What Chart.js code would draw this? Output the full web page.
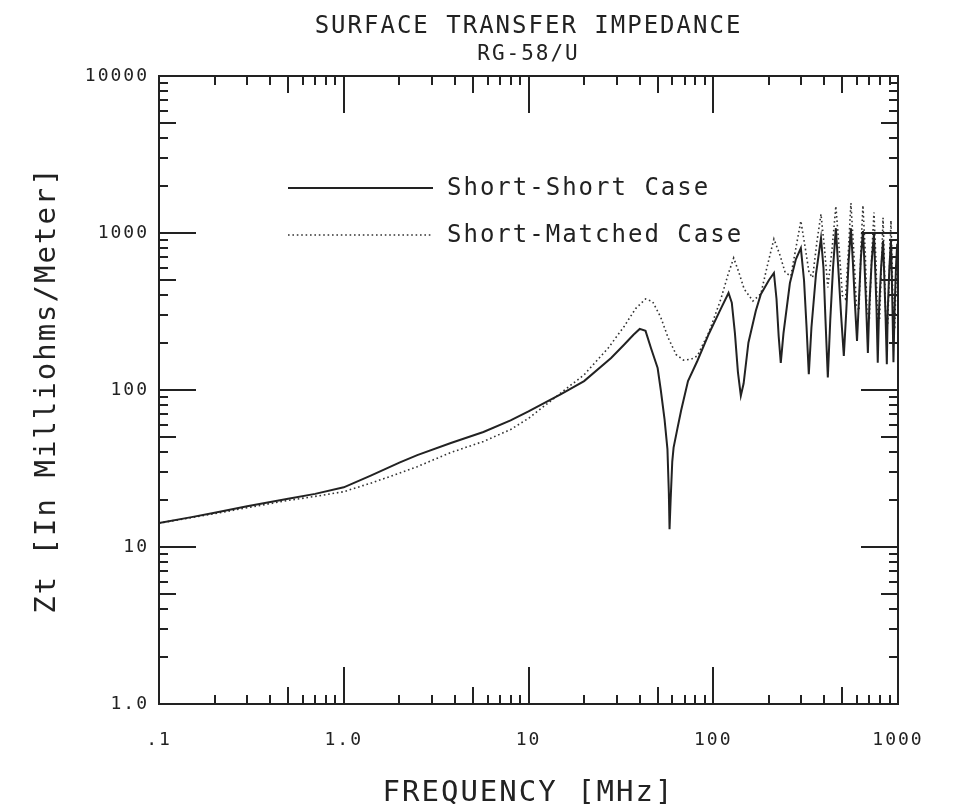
<!DOCTYPE html>
<html>
<head>
<meta charset="utf-8">
<title>Surface Transfer Impedance</title>
<script src="https://cdn.jsdelivr.net/npm/chart.js@4.4.1/dist/chart.umd.min.js"></script>
<style>
    body { margin: 0; background: #fff; }
    canvas { display: block; }
</style>
</head>
<body>
<canvas id="chart" width="955" height="804"></canvas>
<script>
/* =========================
   DATA
========================= */

// Short-Short case
const ssFreq = [0.1, 0.15, 0.2, 0.3, 0.5, 0.7, 1.0, 1.4, 2.0, 2.5, 3.8, 5.7, 8, 10, 15, 20, 28, 33, 37, 40,
    43, 46, 50, 52, 54.5, 56.5, 57.5, 58, 58.8, 60, 61, 64, 67, 73, 82, 95, 110, 121, 126, 131,
    136, 141, 146, 155, 170, 181, 200, 213, 220, 226, 232, 240, 260, 280, 298, 310, 320, 329, 340, 360,
    383, 395, 405, 417, 430, 445, 461, 475, 492, 509, 525, 540, 556, 570, 585, 600, 615, 630, 646, 658,
    672, 687, 700, 720, 741, 752, 765, 777, 790, 810, 830, 842, 856, 870, 880, 898, 916, 925, 935, 945,
    958, 975, 990, 1000];
const ssZt = [14.2, 15.5, 16.5, 18.2, 20.3, 21.8, 24, 28.5, 34.5, 38.5, 46, 54, 64, 73, 94, 114, 160, 195, 225, 245,
    238, 185, 138, 100, 65, 42, 22, 13, 20, 35, 43, 57, 74, 114, 153, 230, 330, 415, 360, 230,
    130, 92, 110, 200, 320, 408, 500, 556, 380, 220, 149, 230, 480, 680, 802, 500, 250, 126, 250, 550,
    929, 600, 280, 120, 280, 600, 1073, 600, 300, 165, 320, 650, 1073, 650, 350, 205, 380, 700, 1030, 650,
    350, 172, 350, 650, 985, 600, 330, 149, 330, 600, 890, 550, 300, 146, 320, 600, 890, 550, 300, 150,
    320, 600, 850, 700];

// Short-Matched case
const smFreq = [0.1, 0.2, 0.3, 0.5, 0.7, 1.0, 1.4, 2.0, 2.5, 3.8, 5.7, 8, 10, 13, 15, 20, 27, 33, 38, 43,
    47, 52, 57, 63, 69, 76, 82, 95, 110, 120, 129, 137, 147, 164, 181, 195, 213, 230, 245, 263,
    280, 298, 315, 330, 345, 365, 383, 400, 417, 440, 461, 480, 500, 520, 540, 556, 575, 595, 615, 630,
    646, 665, 680, 700, 720, 741, 760, 775, 795, 815, 830, 845, 860, 880, 900, 916, 930, 945, 960, 980,
    1000];
const smZt = [14.2, 16.3, 17.8, 19.8, 21, 22.5, 25.5, 29.5, 32.5, 40, 47, 56, 66, 84, 96, 125, 185, 255, 330, 380,
    365, 290, 215, 168, 155, 157, 165, 235, 380, 540, 693, 570, 440, 369, 410, 600, 916, 720, 560, 532,
    800, 1192, 800, 560, 520, 900, 1320, 800, 450, 800, 1482, 800, 400, 380, 800, 1550, 800, 350, 320, 800,
    1500, 750, 300, 290, 700, 1350, 650, 270, 280, 650, 1250, 600, 260, 260, 600, 1200, 600, 250, 250, 600,
    1000];

// axes
const xTicks = [0.1, 1, 10, 100, 1000];
const xTickLabels = [".1", "1.0", "10", "100", "1000"];
const yTicks = [1, 10, 100, 1000, 10000];
const yTickLabels = ["1.0", "10", "100", "1000", "10000"];
const minorSteps = [2, 3, 4, 5, 6, 7, 8, 9];

/* =========================
   STYLE
========================= */

const INK = "#222";
const FONT = "'DejaVu Sans Mono', monospace";

function pts(xs, ys) {
    return xs.map((x, i) => ({ x: x, y: ys[i] }));
}

/* plotter-style box + inward ticks on all four sides */
const frame = {
    id: "frame",
    beforeDraw(chart) {
        chart.ctx.letterSpacing = "2px";
    },
    afterDatasetsDraw(chart) {
        const { ctx, chartArea: a, scales: { x, y } } = chart;
        const len = m => m === 1 ? 37 : (m === 5 ? 17 : 9);

        ctx.save();
        ctx.strokeStyle = INK;
        ctx.lineWidth = 2;
        ctx.beginPath();

        xTicks.forEach(d => {
            [1, ...minorSteps].forEach(m => {
                const v = d * m;
                if (v > x.max * 1.0001) return;
                const px = Math.round(x.getPixelForValue(v));
                ctx.moveTo(px, a.bottom);
                ctx.lineTo(px, a.bottom - len(m));
                ctx.moveTo(px, a.top);
                ctx.lineTo(px, a.top + len(m));
            });
        });

        yTicks.forEach(d => {
            [1, ...minorSteps].forEach(m => {
                const v = d * m;
                if (v > y.max * 1.0001) return;
                const py = Math.round(y.getPixelForValue(v));
                ctx.moveTo(a.left, py);
                ctx.lineTo(a.left + len(m), py);
                ctx.moveTo(a.right, py);
                ctx.lineTo(a.right - len(m), py);
            });
        });
        ctx.stroke();

        ctx.strokeRect(a.left, a.top, a.width, a.height);
        ctx.restore();
    }
};

/* legend drawn inside the plot, like the original */
const legendBox = {
    id: "legendBox",
    afterDatasetsDraw(chart) {
        const { ctx, chartArea: a } = chart;

        chart.data.datasets.forEach((ds, i) => {
            const y = a.top + 112 + i * 47;
            const x0 = a.left + 129;

            ctx.save();
            ctx.strokeStyle = ds.borderColor;
            ctx.lineWidth = ds.borderWidth;
            ctx.setLineDash(ds.borderDash || []);
            ctx.beginPath();
            ctx.moveTo(x0, y);
            ctx.lineTo(x0 + 145, y);
            ctx.stroke();

            ctx.setLineDash([]);
            ctx.fillStyle = INK;
            ctx.font = `24px ${FONT}`;
            ctx.textBaseline = "middle";
            ctx.fillText(ds.label, x0 + 159, y + 1);
            ctx.restore();
        });
    }
};

/* =========================
   CHART
========================= */

new Chart(document.getElementById("chart"), {
    type: "scatter",
    data: {
        datasets: [{
            label: "Short-Short Case",
            data: pts(ssFreq, ssZt),
            showLine: true,
            borderColor: INK,
            borderWidth: 2,
            pointRadius: 0,
            tension: 0
        }, {
            label: "Short-Matched Case",
            data: pts(smFreq, smZt),
            showLine: true,
            borderColor: "#333",
            borderWidth: 1.6,
            borderDash: [1.6, 2.8],
            pointRadius: 0,
            tension: 0
        }]
    },
    options: {
        responsive: false,
        animation: false,
        devicePixelRatio: 1,
        layout: { padding: { right: 57 } },
        plugins: {
            legend: { display: false },
            tooltip: { enabled: false },
            title: {
                display: true,
                text: "SURFACE TRANSFER IMPEDANCE",
                fullSize: false,
                color: INK,
                font: { family: FONT, size: 24, weight: "normal", lineHeight: 1.2 },
                padding: { top: 12, bottom: 0 }
            },
            subtitle: {
                display: true,
                text: "RG-58/U",
                fullSize: false,
                color: INK,
                font: { family: FONT, size: 21, weight: "normal", lineHeight: 1.2 },
                padding: { top: 1, bottom: 9 }
            }
        },
        scales: {
            x: {
                type: "logarithmic",
                position: "bottom",
                min: 0.1,
                max: 1000,
                afterFit(scale) { scale.height = 100; },
                afterBuildTicks(scale) {
                    scale.ticks = xTicks.map(v => ({ value: v, major: true }));
                },
                ticks: {
                    autoSkip: false,
                    maxRotation: 0,
                    padding: 26,
                    color: INK,
                    font: { family: FONT, size: 18 },
                    callback: (v, i) => xTickLabels[i]
                },
                grid: { display: false, drawTicks: false },
                border: { display: false },
                title: {
                    display: true,
                    text: "FREQUENCY [MHz]",
                    color: INK,
                    font: { family: FONT, size: 29, lineHeight: 0.75 },
                    padding: { top: 0, bottom: 0 }
                }
            },
            y: {
                type: "logarithmic",
                position: "left",
                min: 1,
                max: 10000,
                afterFit(scale) { scale.width = 159; },
                afterBuildTicks(scale) {
                    scale.ticks = yTicks.map(v => ({ value: v, major: true }));
                },
                ticks: {
                    autoSkip: false,
                    padding: 10,
                    color: INK,
                    font: { family: FONT, size: 18 },
                    callback: (v, i) => yTickLabels[i]
                },
                grid: { display: false, drawTicks: false },
                border: { display: false },
                title: {
                    display: true,
                    text: "Zt [In Milliohms/Meter]",
                    color: INK,
                    font: { family: FONT, size: 29, lineHeight: 1 },
                    padding: { top: 33, bottom: 0 }
                }
            }
        }
    },
    plugins: [frame, legendBox]
});
</script>
</body>
</html>
